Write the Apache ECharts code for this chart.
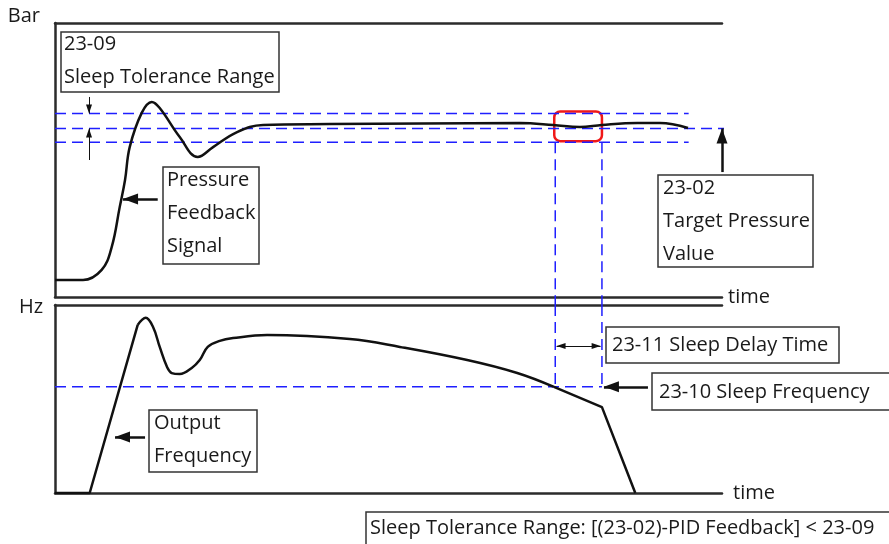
<!DOCTYPE html>
<html>
<head>
<meta charset="utf-8">
<script src="https://cdn.jsdelivr.net/npm/echarts@6/dist/echarts.min.js"></script>
<style>
html, body { margin: 0; padding: 0; background: #fff; }
#main { width: 889px; height: 544px; }
</style>
</head>
<body>
<div id="main"></div>
<script>
// time runs 0..100 on both panels, pressure and frequency are 0..100 (% of panel)
var pressureTime  = [0, 4.2, 7.0, 8.5, 9.7, 10.5, 11.2, 13.0, 14.5, 15.7, 18.7, 21.4, 23.7, 27.3, 31.2, 41.2, 55.0, 69.7, 74.7, 78.7, 82.0, 87.3, 90.7, 94.9];
var pressureValue = [6.2, 6.2, 9.9, 18.2, 32.8, 42.7, 54.7, 67.2, 71.2, 69.0, 58.4, 51.1, 54.7, 60.2, 62.8, 63.1, 63.3, 63.5, 62.8, 62.0, 62.8, 63.5, 63.5, 61.7];

// output frequency: straight ramp up, smooth middle part, straight ramp down
var freqRiseTime  = [0, 5.2, 12.4];
var freqRiseValue = [0, 0, 89.4];
var freqMidTime   = [12.4, 13.6, 14.7, 15.7, 16.8, 17.5, 18.7, 20.5, 21.7, 22.9, 24.7, 26.7, 31.8, 44.2, 51.7, 61.8, 69.3, 74.8];
var freqMidValue  = [89.4, 93.2, 88.3, 77.7, 67.0, 63.8, 63.3, 66.5, 70.7, 77.7, 80.9, 82.4, 84.0, 81.9, 77.7, 70.7, 63.8, 56.4];
var freqFallTime  = [74.8, 82.0, 87.0];
var freqFallValue = [56.4, 45.7, 0];

// parameter levels
var tolUpper = 67, targetPressure = 61.5, tolLower = 56.5;
var sleepStart = 75, sleepEnd = 82, sleepFreq = 56.5;
var bandEnd = 95, targetEnd = 102.5;

var FONT = '"Open Sans", "Noto Sans", sans-serif';
var INK = '#1a1a1a';
var AXIS = '#2b2b2b';
var BLUE = '#1f1fff';

function pairs(xs, ys) {
	return xs.map(function (x, i) { return [x, ys[i]]; });
}
// arrow from a to b, head drawn at b (and at a too when both is set)
function arrow(a, b, head, both) {
	var tip = { symbol: 'triangle', symbolSize: head, symbolOffset: [0, head[1] / 2] };
	var start = both ? echarts.util.extend({ coord: a }, tip) : { coord: a, symbol: 'none' };
	return [start, echarts.util.extend({ coord: b }, tip)];
}

function xAxisOf(grid, pos, name, gap) {
	return {
		type: 'value', gridIndex: grid, position: pos, min: 0, max: 100,
		name: name, nameLocation: 'end', nameGap: gap,
		nameTextStyle: { fontFamily: FONT, fontSize: 20, color: INK, align: 'left', verticalAlign: 'middle' },
		axisLine: { show: true, onZero: false, lineStyle: { color: AXIS, width: 2.5 } },
		axisTick: { show: false }, axisLabel: { show: false }, splitLine: { show: false }
	};
}
function yAxisOf(grid, name, gap, padRight) {
	return {
		type: 'value', gridIndex: grid, min: 0, max: 100,
		name: name, nameLocation: 'end', nameGap: gap,
		nameTextStyle: { fontFamily: FONT, fontSize: 20, color: INK, align: 'right', verticalAlign: 'middle', padding: [0, padRight, 0, 0] },
		axisLine: { show: true, onZero: false, lineStyle: { color: AXIS, width: 2.5 } },
		axisTick: { show: false }, axisLabel: { show: false }, splitLine: { show: false }
	};
}
// dashed guide drawn as a two point line series (may run past the axis range)
function guideLine(xIdx, yIdx, a, b) {
	return {
		type: 'line', xAxisIndex: xIdx, yAxisIndex: yIdx, data: [a, b], clip: false, silent: true,
		symbol: 'none', showSymbol: false,
		lineStyle: { color: BLUE, width: 1.5, type: [11, 6] }
	};
}
// helper series that only carries arrow mark lines
function arrows(xIdx, yIdx, lines, width) {
	return {
		type: 'line', xAxisIndex: xIdx, yAxisIndex: yIdx, data: [], clip: false, silent: true,
		markLine: {
			silent: true, animation: false,
			label: { show: false }, emphasis: { disabled: true },
			lineStyle: { color: '#111', width: width, type: 'solid' },
			itemStyle: { color: '#111' }, data: lines
		}
	};
}
function curve(xIdx, yIdx, data, smooth) {
	return {
		type: 'line', xAxisIndex: xIdx, yAxisIndex: yIdx, data: data, smooth: smooth,
		showSymbol: false, symbol: 'none', silent: true, clip: false,
		lineStyle: { color: '#111', width: 2.5 }
	};
}

var bigHead = [11, 15];
var smallHead = [6, 9];

var boxes = [
	{ r: [61, 32, 218, 60], x: 64, y: 28, text: '23-09\nSleep Tolerance Range' },
	{ r: [163, 167, 96, 97], x: 167, y: 163.5, text: 'Pressure\nFeedback\nSignal' },
	{ r: [658, 175, 155, 92], x: 663, y: 171.5, text: '23-02\nTarget Pressure\nValue' },
	{ r: [149, 410, 108, 62], x: 154, y: 406.5, text: 'Output\nFrequency' },
	{ r: [606, 327, 233, 36], x: 612, y: 329, text: '23-11 Sleep Delay Time' },
	{ r: [652, 373, 240, 37], x: 659, y: 376, text: '23-10 Sleep Frequency' },
	{ r: [366, 512, 530, 40], x: 370, y: 511.5, text: 'Sleep Tolerance Range: [(23-02)-PID Feedback] < 23-09' }
];

var myChart = echarts.init(document.getElementById('main'));
myChart.setOption({
	animation: false,
	backgroundColor: '#fff',
	grid: [
		{ left: 55, right: 167, top: 23, height: 274, outerBoundsMode: 'none', containLabel: false },
		{ left: 55, right: 167, top: 305, height: 188, outerBoundsMode: 'none', containLabel: false }
	],
	xAxis: [
		xAxisOf(0, 'bottom', 'time', 6),
		xAxisOf(0, 'top', '', 0),
		xAxisOf(1, 'bottom', 'time', 11),
		xAxisOf(1, 'top', '', 0)
	],
	yAxis: [
		yAxisOf(0, 'Bar', 7, 15),
		yAxisOf(1, 'Hz', -2.5, 12)
	],
	series: [
		// top panel: tolerance band, target level and sleep window guides
		guideLine(0, 0, [0, tolUpper], [bandEnd, tolUpper]),
		guideLine(0, 0, [0, targetPressure], [targetEnd, targetPressure]),
		guideLine(0, 0, [0, tolLower], [bandEnd, tolLower]),
		guideLine(0, 0, [sleepStart, tolLower], [sleepStart, -3]),
		guideLine(0, 0, [sleepEnd, tolLower], [sleepEnd, -3]),
		curve(0, 0, pairs(pressureTime, pressureValue), 0.4),
		arrows(0, 0, [
			arrow([100, 45.6], [100, targetPressure], bigHead),
			arrow([15.4, 35.8], [10.2, 35.8], bigHead)
		], 2.5),
		arrows(0, 0, [
			arrow([5.1, 73], [5.1, tolUpper], smallHead),
			arrow([5.1, 50], [5.1, targetPressure], smallHead)
		], 1),
		{
			type: 'custom', xAxisIndex: 0, yAxisIndex: 0, clip: false, silent: true,
			data: [[sleepStart, tolUpper, sleepEnd, tolLower]],
			encode: { x: [0, 2], y: [1, 3] },
			renderItem: function (params, api) {
				var a = api.coord([api.value(0), api.value(1)]);
				var b = api.coord([api.value(2), api.value(3)]);
				return {
					type: 'rect',
					shape: { x: a[0] - 1, y: a[1] - 2, width: b[0] - a[0] + 1, height: b[1] - a[1] + 1, r: 6 },
					style: { fill: 'none', stroke: '#f01818', lineWidth: 2.5 }
				};
			}
		},
		// bottom panel
		guideLine(2, 1, [0, sleepFreq], [sleepEnd, sleepFreq]),
		guideLine(2, 1, [sleepStart, 100], [sleepStart, sleepFreq]),
		guideLine(2, 1, [sleepEnd, 100], [sleepEnd, sleepFreq]),
		curve(2, 1, pairs(freqRiseTime, freqRiseValue), false),
		curve(2, 1, pairs(freqMidTime, freqMidValue), 0.4),
		curve(2, 1, pairs(freqFallTime, freqFallValue), false),
		arrows(2, 1, [
			arrow([13.5, 29.8], [9.0, 29.8], bigHead),
			arrow([88.9, sleepFreq], [82.3, sleepFreq], bigHead)
		], 2.5),
		arrows(2, 1, [
			arrow([sleepStart + 0.2, 78.2], [sleepEnd - 0.2, 78.2], smallHead, true)
		], 1)
	],
	graphic: boxes.map(function (b) {
		return {
			type: 'group', silent: true,
			children: [
				{ type: 'rect', shape: { x: b.r[0], y: b.r[1], width: b.r[2], height: b.r[3] },
					style: { fill: 'none', stroke: '#333', lineWidth: 1.5 } },
				{ type: 'text', x: b.x, y: b.y,
					style: { text: b.text, font: '20px ' + FONT, lineHeight: 33, fill: INK, verticalAlign: 'top' } }
			]
		};
	})
});
</script>
</body>
</html>
